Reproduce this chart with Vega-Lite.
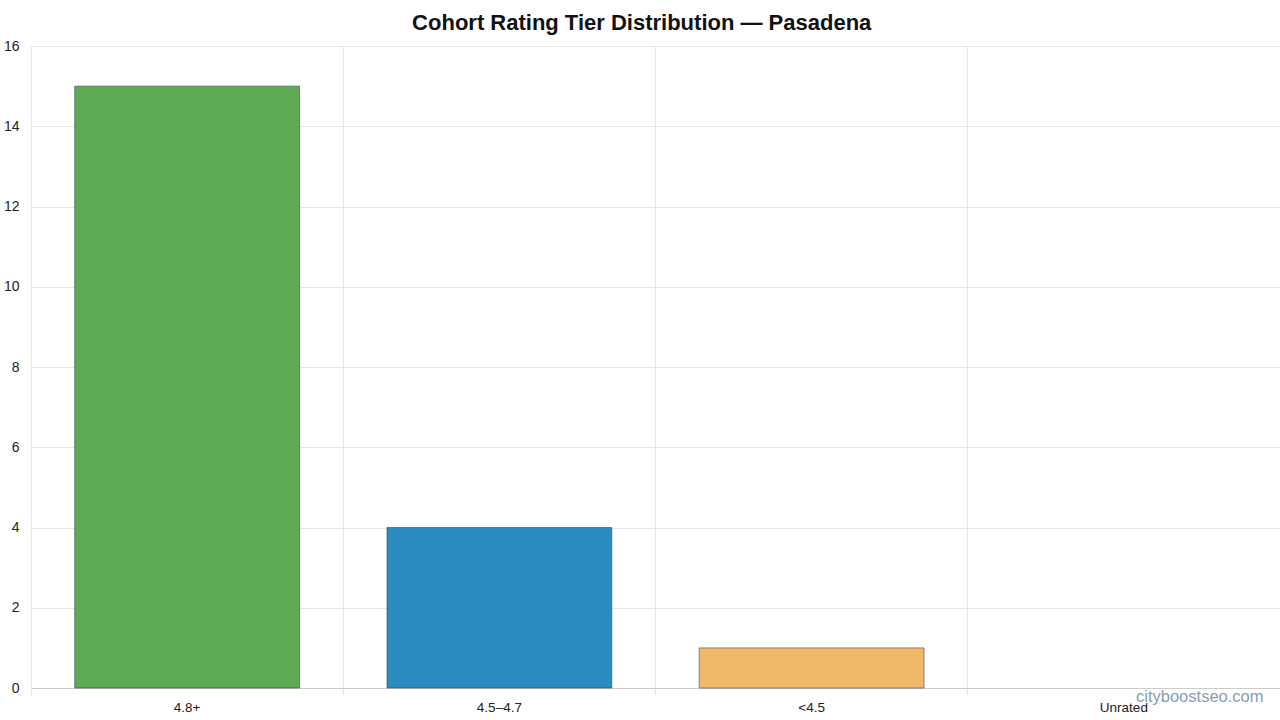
{
  "$schema": "https://vega.github.io/schema/vega-lite/v6.json",
  "autosize": {"type": "fit", "contains": "padding"},
  "width": 1280,
  "height": 720,
  "padding": {"left": 3, "right": 0, "top": 12, "bottom": 6},
  "background": "white",
  "title": {
    "text": "Cohort Rating Tier Distribution — Pasadena",
    "font": "Liberation Sans",
    "fontSize": 22,
    "fontWeight": "bold",
    "color": "#111111",
    "anchor": "middle",
    "frame": "bounds",
    "offset": 4
  },
  "data": {
    "values": [
      {"tier": "4.8+", "count": 15},
      {"tier": "4.5–4.7", "count": 4},
      {"tier": "<4.5", "count": 1},
      {"tier": "Unrated", "count": 0}
    ]
  },
  "mark": {
    "type": "bar",
    "width": {"band": 0.72},
    "strokeWidth": 1,
    "strokeOpacity": 0.55
  },
  "encoding": {
    "x": {
      "field": "tier",
      "type": "nominal",
      "sort": null,
      "scale": {"paddingInner": 0, "paddingOuter": 0},
      "axis": {
        "bandPosition": 0,
        "grid": true,
        "gridColor": "#e6e6e6",
        "ticks": true,
        "tickColor": "#e6e6e6",
        "tickSize": 7,
        "domain": true,
        "domainColor": "#cccccc",
        "labelAngle": 0,
        "labelOverlap": false,
        "labelBound": false,
        "labelFont": "Liberation Sans",
        "labelFontSize": 13.5,
        "labelColor": "#222222",
        "labelPadding": 5,
        "title": "cityboostseo.com",
        "titleFont": "Liberation Sans",
        "titleFontSize": 16.5,
        "titleFontWeight": "normal",
        "titleColor": "#8a9db3",
        "titleAnchor": "end",
        "titleAlign": "right",
        "titleBaseline": "alphabetic",
        "titleX": 1232,
        "titleY": 13
      }
    },
    "y": {
      "field": "count",
      "type": "quantitative",
      "scale": {"domain": [0, 16], "nice": false},
      "axis": {
        "values": [0, 2, 4, 6, 8, 10, 12, 14, 16],
        "grid": true,
        "gridColor": "#e6e6e6",
        "ticks": false,
        "domain": false,
        "labelFont": "Liberation Sans",
        "labelFontSize": 14,
        "labelColor": "#222222",
        "labelPadding": 12,
        "title": null
      }
    },
    "stroke": {
      "condition": {"test": "datum.count == 0", "value": null},
      "value": "#2c3e50"
    },
    "color": {
      "field": "tier",
      "type": "nominal",
      "legend": null,
      "scale": {
        "domain": ["4.8+", "4.5–4.7", "<4.5", "Unrated"],
        "range": ["#5ea954", "#2a8cc1", "#efb86b", "#aaaaaa"]
      }
    }
  },
  "config": {
    "view": {"stroke": null}
  }
}
